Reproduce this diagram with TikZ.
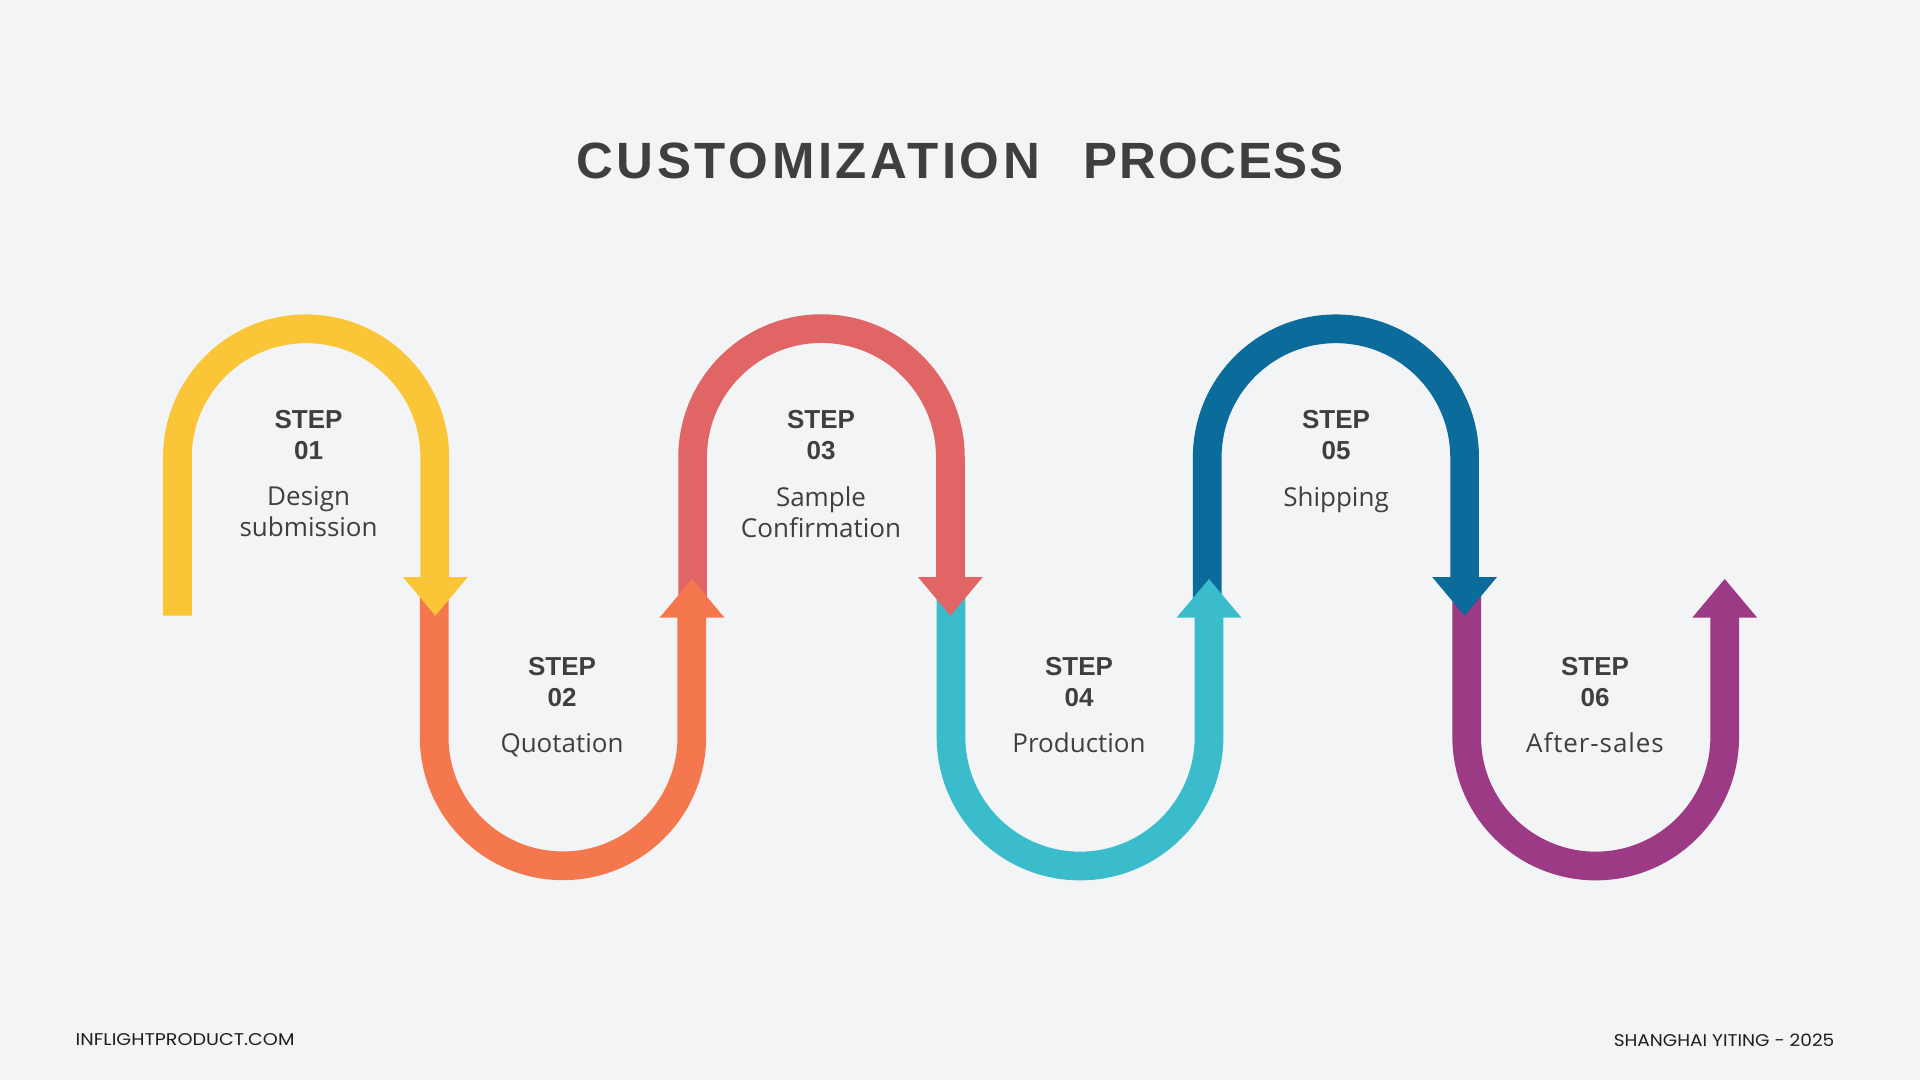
\documentclass[tikz,border=0pt]{standalone}
\usepackage{fontspec}
\setmainfont{Open Sans}
\newfontfamily\titlefont[LetterSpace=7.1]{Liberation Sans}
\newfontfamily\titlefontb[LetterSpace=3.5]{Liberation Sans}
\newfontfamily\stepfont{Liberation Sans}
\newfontfamily\descwide[LetterSpace=3.5]{Open Sans}
\newfontfamily\footfontl[FakeStretch=1.125]{Poppins}
\newfontfamily\footfontr[FakeStretch=1.09]{Poppins}
\definecolor{pagebg}{HTML}{F2F4F6}
\definecolor{ink}{HTML}{3F3F3F}
\definecolor{footink}{HTML}{1E1E1E}
\definecolor{cyellow}{HTML}{FAC637}
\definecolor{corange}{HTML}{F4774E}
\definecolor{cred}{HTML}{E26565}
\definecolor{cteal}{HTML}{3ABCCC}
\definecolor{cblue}{HTML}{0B6B9A}
\definecolor{cpurple}{HTML}{9C3A85}
\tikzset{
  x=1pt,y=1pt,
  band/.style={line width=28.7pt,line cap=butt,line join=miter},
  steptext/.style={inner sep=0pt,align=center,text=ink,font=\fontsize{26}{31}\selectfont\bfseries\stepfont},
  desctext/.style={inner sep=0pt,align=center,text=ink,font=\fontsize{26}{31}\selectfont},
}
\newcommand{\headdown}[2]{\fill[#1] (#2-32.4,-577) -- (#2+32.4,-577) -- (#2,-615.7) -- cycle;}
\newcommand{\headup}[2]{\fill[#1] (#2-32.4,-617.6) -- (#2+32.4,-617.6) -- (#2,-579) -- cycle;}
\begin{document}
\begin{tikzpicture}
\useasboundingbox (0,0) rectangle (1920,-1080);
\fill[pagebg] (0,0) rectangle (1920,-1080);

% purple (bottom of the stack)
\draw[band,cpurple] (1466.7,-590) -- (1466.7,-737) arc[start angle=180,end angle=360,radius=129] -- (1724.7,-605);
\headup{cpurple}{1724.7}
% blue
\draw[band,cblue] (1207.2,-600) -- (1207.2,-457.5) arc[start angle=180,end angle=0,radius=128.7] -- (1464.6,-590);
\headdown{cblue}{1464.6}
% teal
\draw[band,cteal] (951,-590) -- (951,-737) arc[start angle=180,end angle=360,radius=129] -- (1209,-605);
\headup{cteal}{1209}
% red
\draw[band,cred] (692.6,-600) -- (692.6,-457.5) arc[start angle=180,end angle=0,radius=128.9] -- (950.4,-590);
\headdown{cred}{950.4}
% orange
\draw[band,corange] (434.2,-590) -- (434.2,-737) arc[start angle=180,end angle=360,radius=128.8] -- (691.8,-605);
\headup{corange}{692}
% yellow
\draw[band,cyellow] (177.4,-615.7) -- (177.4,-457.5) arc[start angle=180,end angle=0,radius=128.7] -- (434.8,-590);
\headdown{cyellow}{435.4}

\node[inner sep=0pt,anchor=west,text=ink,font=\fontsize{51}{60}\selectfont\bfseries\titlefont] (title) at (576.2,-161) {CUSTOMIZATION\ \hspace{8pt}\ {\titlefontb PROCESS}};

\node[steptext] (s1) at (308.6,-438.1) {\strut STEP\\\strut 01};
\node[desctext] (d1) at (308.6,-514.8) {\strut Design\\\strut submission};
\node[steptext] (s2) at (562,-685) {\strut STEP\\\strut 02};
\node[desctext] (d2) at (562,-746.5) {\strut Quotation};
\node[steptext] (s3) at (821,-438.1) {\strut STEP\\\strut 03};
\node[desctext] (d3) at (821,-515.8) {\strut Sample\\\strut Confirmation};
\node[steptext] (s4) at (1079,-685) {\strut STEP\\\strut 04};
\node[desctext] (d4) at (1079,-746.5) {\strut Production};
\node[steptext] (s5) at (1336,-438.1) {\strut STEP\\\strut 05};
\node[desctext] (d5) at (1336,-500) {\strut Shipping};
\node[steptext] (s6) at (1595,-685) {\strut STEP\\\strut 06};
\node[desctext,font=\fontsize{26}{31}\selectfont\descwide] (d6) at (1595,-746.5) {\strut After-sales};

\node[inner sep=0pt,anchor=west,text=footink,font=\fontsize{17}{20}\selectfont\footfontl] (fl) at (75.5,-1040) {INFLIGHTPRODUCT.COM};
\node[inner sep=0pt,anchor=east,text=footink,font=\fontsize{17}{20}\selectfont\footfontr] (fr) at (1834.5,-1040) {SHANGHAI YITING - 2025};
\end{tikzpicture}
\end{document}
